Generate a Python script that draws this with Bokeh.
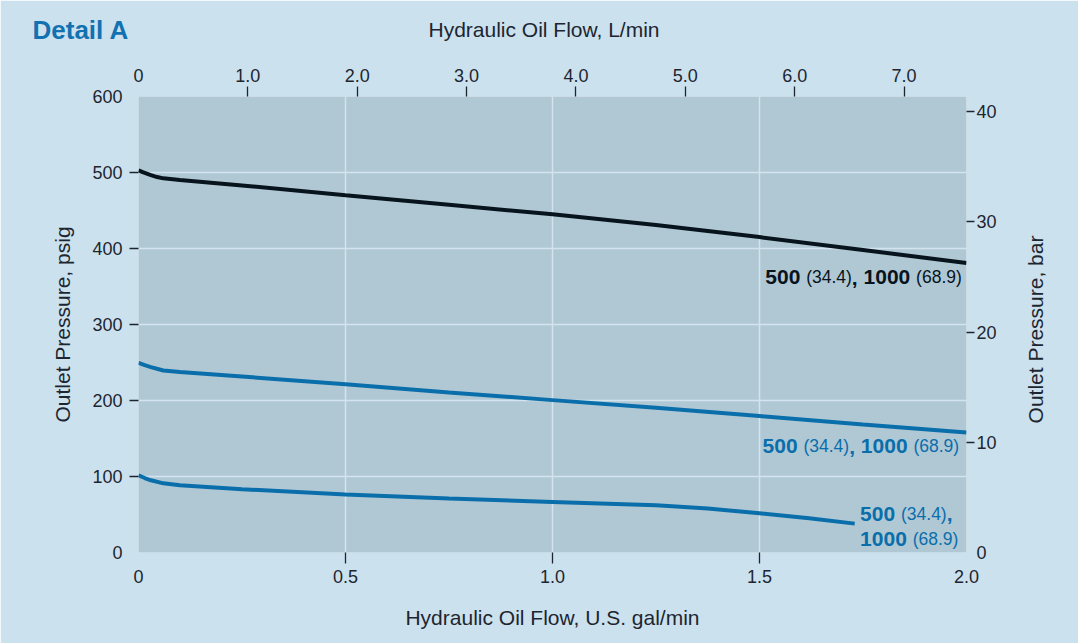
import math
from bokeh.plotting import figure
from bokeh.models import (Range1d, LinearAxis, FixedTicker, ColumnDataSource, Label,
                          NumeralTickFormatter, Grid)
from bokeh.core.properties import value
from bokeh.embed import file_html
from bokeh.resources import INLINE

# ---------------- data ----------------
black_gpm = [0, 0.01, 0.02, 0.03, 0.045, 0.06, 0.1, 0.25, 0.5, 0.75, 1.0, 1.25, 1.5, 1.75, 2.0]
black_psig = [503, 500.5, 498.5, 496.5, 494, 492.3, 490, 483, 470, 457.5, 445, 431, 415, 398, 381]

mid_gpm = [0, 0.015, 0.03, 0.06, 0.1, 0.25, 0.5, 0.75, 1.0, 1.25, 1.5, 1.75, 2.0]
mid_psig = [249.5, 246.5, 244, 239.5, 237.5, 231.5, 221.5, 210.5, 200.5, 190.5, 179.5, 168.5, 158]

low_gpm = [0, 0.015, 0.03, 0.06, 0.1, 0.25, 0.5, 0.75, 1.0, 1.25, 1.375, 1.5, 1.62, 1.73]
low_psig = [101.5, 98, 95, 91, 88.5, 83.3, 76.3, 71, 66.6, 62.2, 58, 51.5, 45, 38]

gpm_ticks = [0, 0.5, 1.0, 1.5, 2.0]
lpm_ticks = [0, 1, 2, 3, 4, 5, 6, 7]
psig_ticks = [0, 100, 200, 300, 400, 500, 600]
bar_ticks = [0, 10, 20, 30, 40]

label_main = ["500", "1000"]
label_sub = ["(34.4)", "(68.9)"]

heading = "Detail A"
title_gpm = "Hydraulic Oil Flow, U.S. gal/min"
title_lpm = "Hydraulic Oil Flow, L/min"
title_psig = "Outlet Pressure, psig"
title_bar = "Outlet Pressure, bar"

GAL_TO_L = 3.78541
BAR_TO_PSI = 14.5038

# ---------------- style ----------------
FONT = "Liberation Sans"
PAGE_BG = "#cce1ee"
PLOT_BG = "#b0c8d4"
GRID = "#d3e4ef"
TXT = "#1d2630"
BLUE = "#0a6eab"
BLACK = "#08141d"
TITLE_BLUE = "#1271b1"

W, H = 1078, 643
X0, X1 = gpm_ticks[0], gpm_ticks[-1]
Y0, Y1 = psig_ticks[0], psig_ticks[-1]

p = figure(width=W, height=H, output_backend="svg", toolbar_location=None,
           x_range=Range1d(X0, X1), y_range=Range1d(Y0, Y1),
           x_axis_location=None, y_axis_location=None,
           min_border_left=138, min_border_right=112, min_border_top=96, min_border_bottom=91,
           background_fill_color=PLOT_BG, border_fill_color=PAGE_BG,
           outline_line_color=None)

p.extra_x_ranges = {"gpm": Range1d(X0, X1), "lpm": Range1d(X0 * GAL_TO_L, X1 * GAL_TO_L)}
p.extra_y_ranges = {"psig": Range1d(Y0, Y1), "bar": Range1d(Y0 / BAR_TO_PSI, Y1 / BAR_TO_PSI)}


def make_axis(ticks, tick_marks, tick_len, standoff, title=None, title_standoff=0, fmt=None,
              faint_rule=False, **kw):
    ax = LinearAxis(**kw)
    ax.ticker = FixedTicker(ticks=ticks, minor_ticks=tick_marks)
    if fmt:
        ax.formatter = NumeralTickFormatter(format=fmt)
        ax.major_label_overrides = {0: "0"}
    if faint_rule:
        ax.axis_line_color = PLOT_BG
        ax.axis_line_alpha = 0.01
        ax.axis_line_width = 1
    else:
        ax.axis_line_color = None
    ax.major_tick_out = 0
    ax.major_tick_in = 0
    ax.major_tick_line_color = None
    ax.minor_tick_out = tick_len
    ax.minor_tick_in = 0
    ax.minor_tick_line_color = TXT
    ax.minor_tick_line_width = 1.3
    ax.major_label_text_font = FONT
    ax.major_label_text_font_size = "18px"
    ax.major_label_text_color = TXT
    ax.major_label_standoff = standoff
    if title:
        ax.axis_label = title
        ax.axis_label_standoff = title_standoff
        ax.axis_label_text_font = FONT
        ax.axis_label_text_font_size = "21px"
        ax.axis_label_text_font_style = "normal"
        ax.axis_label_text_color = TXT
    return ax


p.add_layout(make_axis(gpm_ticks, gpm_ticks[1:-1], 11, 6, title_gpm, 20, "0.0",
                       faint_rule=True, x_range_name="gpm"), "below")
p.add_layout(make_axis(psig_ticks, psig_ticks[1:-1], 9, 7, title_psig, 15,
                       faint_rule=True, y_range_name="psig"), "left")
p.add_layout(make_axis(lpm_ticks, lpm_ticks[1:], 10, 5, fmt="0.0", x_range_name="lpm"), "above")
p.add_layout(make_axis(bar_ticks, bar_ticks[1:], 8, 2, y_range_name="bar"), "right")

p.add_layout(Grid(dimension=0, ticker=FixedTicker(ticks=gpm_ticks[1:-1]),
                  grid_line_color=GRID, grid_line_width=1.5))
p.add_layout(Grid(dimension=1, ticker=FixedTicker(ticks=psig_ticks[1:-1]),
                  grid_line_color=GRID, grid_line_width=1.5))

# ---------------- curves ----------------
p.line(black_gpm, black_psig, line_color=BLACK, line_width=4)
p.line(mid_gpm, mid_psig, line_color=BLUE, line_width=4)
p.line(low_gpm, low_psig, line_color=BLUE, line_width=4)

# ---------------- curve labels (mixed sizes) ----------------
CW = {"0": .556, "1": .556, "2": .556, "3": .556, "4": .556, "5": .556, "6": .556,
      "7": .556, "8": .556, "9": .556, " ": .278, "(": .333, ")": .333, ".": .278, ",": .278}
BIG, SMALL = 21, 17.5
BASE_FIX = -8


def tw(s, size):
    return sum(CW.get(c, .556) for c in s) * size


def add_label(parts, ax, ay, align, dx, dy, color):
    total = sum(tw(s, sz) for s, sz in parts)
    start = dx - total if align == "right" else dx
    big = dict(x=[], y=[], text=[], xo=[])
    small = dict(x=[], y=[], text=[], xo=[])
    cur = start
    for s, sz in parts:
        d = big if sz == BIG else small
        d["x"].append(ax); d["y"].append(ay); d["text"].append(s); d["xo"].append(cur)
        cur += tw(s, sz)
    p.text(x="x", y="y", text="text", x_offset="xo", y_offset=dy + BASE_FIX, source=ColumnDataSource(big),
           text_font=value(FONT), text_font_size=f"{BIG}px", text_font_style="bold",
           text_color=color, text_align="left", text_baseline="alphabetic")
    p.text(x="x", y="y", text="text", x_offset="xo", y_offset=dy + BASE_FIX, source=ColumnDataSource(small),
           text_font=value(FONT), text_font_size=f"{SMALL}px",
           text_color=color, text_align="left", text_baseline="alphabetic")


one_line = [(label_main[0], BIG), (" ", BIG), (label_sub[0], SMALL), (", ", BIG),
            (label_main[1], BIG), (" ", BIG), (label_sub[1], SMALL)]
add_label(one_line, black_gpm[-1], black_psig[-1], "right", -4.7, 22.3, BLACK)
add_label(one_line, mid_gpm[-1], mid_psig[-1], "right", -7.4, 21.7, BLUE)
add_label([(label_main[0], BIG), (" ", BIG), (label_sub[0], SMALL), (",", BIG)],
          low_gpm[-1], low_psig[-1], "left", 5.4, -1.6, BLUE)
add_label([(label_main[1], BIG), (" ", BIG), (label_sub[1], SMALL)],
          low_gpm[-1], low_psig[-1], "left", 5.4, 23.4, BLUE)

# ---------------- side-panel texts (positions relative to their panel) ----------------
p.add_layout(Label(x=405.5, y=36, x_units="screen", y_units="screen", text=title_lpm,
                   text_font=FONT, text_font_size="21px", text_color=TXT,
                   text_align="center", text_baseline="middle"), "above")
p.add_layout(Label(x=-106, y=13, x_units="screen", y_units="screen", text=heading,
                   text_font=FONT, text_font_size="26px", text_font_style="bold",
                   text_color=TITLE_BLUE, text_align="left", text_baseline="middle"), "above")
p.add_layout(Label(x=35.5, y=223, x_units="screen", y_units="screen", text=title_bar,
                   angle=math.pi / 2, text_font=FONT, text_font_size="21px", text_color=TXT,
                   text_align="center", text_baseline="middle"), "right")

open("out.html", "w").write(file_html(p, INLINE))
